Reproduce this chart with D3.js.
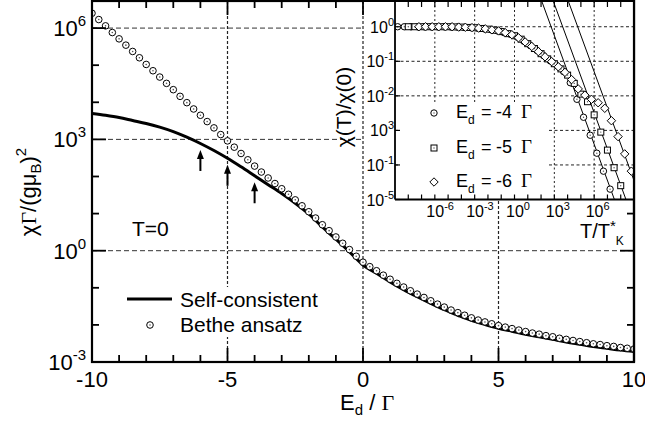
<!DOCTYPE html>
<html><head><meta charset="utf-8">
<script src="https://cdn.jsdelivr.net/npm/d3@7"></script>
<style>
body{margin:0;background:#fff}
svg{display:block}
text{font-family:"Liberation Sans",Arial,Helvetica,sans-serif;fill:#000}
</style></head>
<body><svg id="c" width="645" height="432"></svg>
<script>
// ---------------- main panel data ----------------
const lineEnergy = [-10,-9.5,-9,-8.5,-8,-7.5,-7,-6.5,-6,-5.5,-5,-4.5,-4,-3.5,-3,-2.5,-2,-1.5,-1,-0.5,0,0.5,1,1.5,2,2.5,3,3.5,4,4.5,5,5.5,6,6.5,7,7.5,8,8.5,9,9.5,10];
const selfConsistentLog10 = [3.70,3.65,3.59,3.51,3.43,3.33,3.21,3.06,2.89,2.70,2.49,2.26,2.02,1.78,1.54,1.28,0.99,0.64,0.31,-0.03,-0.385,-0.61,-0.84,-1.05,-1.24,-1.42,-1.59,-1.74,-1.88,-1.99,-2.09,-2.17,-2.25,-2.32,-2.39,-2.46,-2.52,-2.58,-2.63,-2.68,-2.72];
const betheEnergy = [-10,-9.75,-9.5,-9.25,-9,-8.75,-8.5,-8.25,-8,-7.75,-7.5,-7.25,-7,-6.75,-6.5,-6.25,-6,-5.75,-5.5,-5.25,-5,-4.75,-4.5,-4.25,-4,-3.75,-3.5,-3.25,-3,-2.75,-2.5,-2.25,-2,-1.75,-1.5,-1.25,-1,-0.75,-0.5,-0.25,0,0.25,0.5,0.75,1,1.25,1.5,1.75,2,2.25,2.5,2.75,3,3.25,3.5,3.75,4,4.25,4.5,4.75,5,5.25,5.5,5.75,6,6.25,6.5,6.75,7,7.25,7.5,7.75,8,8.25,8.5,8.75,9,9.25,9.5,9.75,10];
const betheLog10 = [6.40,6.23,6.06,5.88,5.71,5.54,5.37,5.20,5.02,4.85,4.68,4.51,4.34,4.16,3.99,3.82,3.65,3.48,3.31,3.13,2.96,2.79,2.62,2.45,2.28,2.12,1.96,1.81,1.67,1.52,1.37,1.21,1.05,0.88,0.70,0.54,0.37,0.20,0.03,-0.15,-0.31,-0.43,-0.54,-0.66,-0.77,-0.88,-0.98,-1.08,-1.17,-1.26,-1.35,-1.44,-1.52,-1.60,-1.67,-1.74,-1.81,-1.87,-1.92,-1.97,-2.02,-2.06,-2.10,-2.14,-2.18,-2.22,-2.25,-2.29,-2.32,-2.36,-2.39,-2.42,-2.45,-2.48,-2.51,-2.53,-2.56,-2.58,-2.61,-2.63,-2.65];
const arrowEnergy = [-6,-5,-4];
const mainXTicks = [-10,-9,-8,-7,-6,-5,-4,-3,-2,-1,0,1,2,3,4,5,6,7,8,9,10];
const mainXLabels = [-10,-5,0,5,10];
const mainYDecades = [-3,-2,-1,0,1,2,3,4,5,6];
const mainYLabels = [-3,0,3,6];

// ---------------- inset data ----------------
const circleLogT = [-8.8,-8.3,-7.8,-7.3,-6.8,-6.3,-5.8,-5.3,-4.8,-4.3,-3.8,-3.3,-2.8,-2.3,-1.8,-1.3,-0.8,-0.3,0.2,0.7,1.2,1.7,2.2,2.7,3.2,3.7,4.2,4.7,5.2,5.7,6.2,6.7,7.2];
const circleLogChi = [0,0,0,0,0,0,0,0,-0.005,-0.01,-0.02,-0.025,-0.04,-0.06,-0.085,-0.12,-0.17,-0.22,-0.30,-0.42,-0.55,-0.69,-0.84,-0.99,-1.13,-1.30,-1.62,-2.10,-2.62,-3.14,-3.66,-4.18,-4.70];
const squareLogT = [-8,-7.5,-7,-6.5,-6,-5.5,-5,-4.5,-4,-3.5,-3,-2.5,-2,-1.5,-1,-0.5,0,0.5,1,1.5,2,2.5,3,3.5,4,4.5,5,5.5,6,6.5,7,7.5,8];
const squareLogChi = [0,0,0,0,0,0,0,-0.005,-0.01,-0.02,-0.03,-0.05,-0.07,-0.10,-0.14,-0.20,-0.26,-0.36,-0.49,-0.63,-0.78,-0.93,-1.07,-1.22,-1.40,-1.64,-1.95,-2.17,-2.55,-3.05,-3.57,-4.08,-4.60];
const diamondLogT = [-7.2,-6.7,-6.2,-5.7,-5.2,-4.7,-4.2,-3.7,-3.2,-2.7,-2.2,-1.7,-1.2,-0.7,-0.2,0.3,0.8,1.3,1.8,2.3,2.8,3.3,3.8,4.3,4.8,5.3,5.8,6.3,6.8,7.3,7.8,8.3,8.8];
const diamondLogChi = [0,0,0,0,0,0,-0.01,-0.015,-0.025,-0.04,-0.06,-0.09,-0.12,-0.17,-0.23,-0.32,-0.44,-0.57,-0.72,-0.87,-1.01,-1.16,-1.32,-1.53,-1.80,-1.98,-2.10,-2.20,-2.36,-2.72,-3.18,-3.68,-4.18];
const curieLineLogT = [[1.90,7.62],[2.77,8.49],[3.90,9.62]];
const curieLineLogChi = [[0.9,-5.1],[0.9,-5.1],[0.9,-5.1]];
const insetLegend = ["-4","-5","-6"];
const insetXLabels = [-6,-3,0,3,6];
const insetXDecades = [-8,-7,-6,-5,-4,-3,-2,-1,0,1,2,3,4,5,6,7,8];
const insetYLabelExp = [0,-1,-2,-3,-4,-5];
const insetYLabelText = ["0","-1","-2","3","-1","-5"];

const svg = d3.select('#c');
svg.append('rect').attr('width',645).attr('height',432).attr('fill','#fff');

// ---------------- main scales ----------------
const L=92,R=634,T=1,B=362;
const x = d3.scaleLinear().domain([-10,10]).range([L,R]);
const y = d3.scaleLog().domain([1e-3, Math.pow(10,6.73)]).range([B,T]);
const P = v => Math.pow(10,v);

const defs = svg.append('defs');
defs.append('clipPath').attr('id','mclip').append('rect').attr('x',L).attr('y',T).attr('width',R-L).attr('height',B-T);

// grid
const grid = svg.append('g');
[0,3,6].forEach(e=>{
  grid.append('line').attr('x1',L).attr('x2',R).attr('y1',y(P(e))).attr('y2',y(P(e)))
    .attr('stroke','#333').attr('stroke-width',1).attr('stroke-dasharray','5,3');
});
[-5,0,5].forEach(v=>{
  grid.append('line').attr('x1',x(v)).attr('x2',x(v)).attr('y1',T).attr('y2',B)
    .attr('stroke','#222').attr('stroke-width',1.2).attr('stroke-dasharray','3,2');
});

// data
const dg = svg.append('g').attr('clip-path','url(#mclip)');
const lineData = lineEnergy.map((e,i)=>[x(e), y(P(selfConsistentLog10[i]))]);
dg.append('path').attr('d', d3.line().curve(d3.curveMonotoneX)(lineData))
  .attr('fill','none').attr('stroke','#000').attr('stroke-width',3);
const bg = dg.append('g');
betheEnergy.forEach((e,i)=>{
  const cx=x(e), cy=y(P(betheLog10[i]));
  bg.append('circle').attr('cx',cx).attr('cy',cy).attr('r',3.3).attr('fill','#fff').attr('stroke','#000').attr('stroke-width',1);
  bg.append('circle').attr('cx',cx).attr('cy',cy).attr('r',0.8).attr('fill','#555');
});

// ticks & frame
const ax = svg.append('g').attr('stroke','#000');
mainXTicks.forEach(v=>{
  const len = mainXLabels.includes(v)?14:7;
  ax.append('line').attr('x1',x(v)).attr('x2',x(v)).attr('y1',B).attr('y2',B-len).attr('stroke-width',1.8);
  ax.append('line').attr('x1',x(v)).attr('x2',x(v)).attr('y1',T).attr('y2',T+len).attr('stroke-width',1.8);
});
mainYDecades.forEach(e=>{
  const len = mainYLabels.includes(e)?14:7;
  ax.append('line').attr('x1',L).attr('x2',L+len).attr('y1',y(P(e))).attr('y2',y(P(e))).attr('stroke-width',1.8);
  ax.append('line').attr('x1',R).attr('x2',R-len).attr('y1',y(P(e))).attr('y2',y(P(e))).attr('stroke-width',1.8);
});
ax.append('rect').attr('x',L).attr('y',T).attr('width',R-L).attr('height',B-T).attr('fill','none').attr('stroke-width',2.2);

// tick labels
mainXLabels.forEach(v=>{
  svg.append('text').attr('x',x(v)).attr('y',387).attr('text-anchor','middle').attr('font-size',22).text(v);
});
mainYLabels.forEach(e=>{
  const t = svg.append('text').attr('x',86).attr('y',y(P(e))+8).attr('text-anchor','end').attr('font-size',22);
  t.append('tspan').text('10');
  t.append('tspan').attr('dy',-10).attr('font-size',15).text(e);
});

// axis titles
const xt = svg.append('text').attr('x',340).attr('y',410).attr('font-size',22);
xt.append('tspan').text('E');
xt.append('tspan').attr('dy',5).attr('font-size',15).text('d');
xt.append('tspan').attr('dy',-5).text(' / ');
xt.append('tspan').attr('font-family','"Liberation Serif",serif').text('Γ');

const yt = svg.append('text').attr('transform','translate(36,192) rotate(-90)').attr('text-anchor','middle').attr('font-size',22);
yt.append('tspan').text('χ');
yt.append('tspan').attr('font-family','"Liberation Serif",serif').text('Γ');
yt.append('tspan').text('/(gμ');
yt.append('tspan').attr('dy',5).attr('font-size',15).text('B');
yt.append('tspan').attr('dy',-5).text(')');
yt.append('tspan').attr('dy',-10).attr('font-size',15).text('2');

// T=0
svg.append('text').attr('x',132).attr('y',236).attr('font-size',21).text('T=0');

// main legend
svg.append('rect').attr('x',124).attr('y',287).attr('width',190).attr('height',50).attr('fill','#fff');
svg.append('line').attr('x1',127).attr('x2',172).attr('y1',299).attr('y2',299).attr('stroke','#000').attr('stroke-width',3);
svg.append('text').attr('x',180).attr('y',307).attr('font-size',21).text('Self-consistent');
svg.append('circle').attr('cx',150).attr('cy',325).attr('r',3.3).attr('fill','#fff').attr('stroke','#000');
svg.append('circle').attr('cx',150).attr('cy',325).attr('r',0.8).attr('fill','#555');
svg.append('text').attr('x',180).attr('y',332).attr('font-size',21).text('Bethe ansatz');

// arrows
arrowEnergy.forEach(e=>{
  const i = lineEnergy.indexOf(e);
  const tipY = y(P(selfConsistentLog10[i]))+6.5;
  const ax0 = x(e);
  svg.append('line').attr('x1',ax0).attr('x2',ax0).attr('y1',tipY+6).attr('y2',tipY+21).attr('stroke','#000').attr('stroke-width',2);
  svg.append('path').attr('d',`M${ax0},${tipY} L${ax0-3.5},${tipY+9} L${ax0+3.5},${tipY+9} Z`).attr('fill','#000');
});

// ---------------- inset ----------------
const IL=395,IR=634,IT=1,IB=199.5;
const xi = d3.scaleLog().domain([1e-9,1e9]).range([IL,IR]);
const yi = d3.scaleLog().domain([1e-5, Math.pow(10,0.745)]).range([IB,IT]);
svg.append('rect').attr('x',364).attr('y',0).attr('width',IR-364).attr('height',IB).attr('fill','#fff');
defs.append('clipPath').attr('id','iclip').append('rect').attr('x',IL).attr('y',IT).attr('width',IR-IL).attr('height',IB-IT);

const ig = svg.append('g');
[0,-1,-2,-3,-4].forEach(e=>{
  ig.append('line').attr('x1',IL).attr('x2',IR).attr('y1',yi(P(e))).attr('y2',yi(P(e)))
    .attr('stroke','#222').attr('stroke-width',1).attr('stroke-dasharray','3,2.5');
});
insetXLabels.forEach(e=>{
  ig.append('line').attr('x1',xi(P(e))).attr('x2',xi(P(e))).attr('y1',IT).attr('y2',IB)
    .attr('stroke','#222').attr('stroke-width',1).attr('stroke-dasharray','2,2.5');
});

// legend background in inset
svg.append('rect').attr('x',398).attr('y',104).attr('width',150).attr('height',94).attr('fill','#fff');

const idg = svg.append('g').attr('clip-path','url(#iclip)');
curieLineLogT.forEach((lt,k)=>{
  idg.append('line').attr('x1',xi(P(lt[0]))).attr('y1',yi(P(curieLineLogChi[k][0])))
    .attr('x2',xi(P(lt[1]))).attr('y2',yi(P(curieLineLogChi[k][1])))
    .attr('stroke','#000').attr('stroke-width',1);
});
function circ(g,cx,cy){
  g.append('circle').attr('cx',cx).attr('cy',cy).attr('r',3.2).attr('fill','#fff').attr('stroke','#000').attr('stroke-width',1);
  g.append('circle').attr('cx',cx).attr('cy',cy).attr('r',0.7).attr('fill','#555');
}
function sq(g,cx,cy){
  g.append('rect').attr('x',cx-3).attr('y',cy-3).attr('width',6).attr('height',6).attr('fill','#fff').attr('stroke','#000').attr('stroke-width',1);
  g.append('circle').attr('cx',cx).attr('cy',cy).attr('r',0.7).attr('fill','#555');
}
function dia(g,cx,cy){
  g.append('path').attr('d',`M${cx},${cy-4.2} L${cx+4.2},${cy} L${cx},${cy+4.2} L${cx-4.2},${cy} Z`).attr('fill','#fff').attr('stroke','#000').attr('stroke-width',1);
}
circleLogT.forEach((t,i)=>circ(idg, xi(P(t)), yi(P(circleLogChi[i]))));
squareLogT.forEach((t,i)=>sq(idg, xi(P(t)), yi(P(squareLogChi[i]))));
diamondLogT.forEach((t,i)=>dia(idg, xi(P(t)), yi(P(diamondLogChi[i]))));

// inset ticks & frame
const iax = svg.append('g').attr('stroke','#000');
insetXDecades.forEach(e=>{
  const px = xi(P(e));
  iax.append('line').attr('x1',px).attr('x2',px).attr('y1',IB).attr('y2',IB-5).attr('stroke-width',1.2);
  iax.append('line').attr('x1',px).attr('x2',px).attr('y1',IT).attr('y2',IT+6).attr('stroke-width',1.2);
});
insetYLabelExp.forEach(e=>{
  iax.append('line').attr('x1',IL).attr('x2',IL+5).attr('y1',yi(P(e))).attr('y2',yi(P(e))).attr('stroke-width',1.2);
});
iax.append('line').attr('x1',IL).attr('x2',IL).attr('y1',0).attr('y2',IB).attr('stroke-width',1.8);
iax.append('line').attr('x1',IL).attr('x2',IR+1).attr('y1',IB).attr('y2',IB).attr('stroke-width',1.8);
iax.append('line').attr('x1',IR).attr('x2',IR).attr('y1',0).attr('y2',B).attr('stroke-width',2.2);
iax.append('line').attr('x1',L).attr('x2',R).attr('y1',T).attr('y2',T).attr('stroke-width',2.2);

// inset labels
insetYLabelExp.forEach((e,i)=>{
  const t = svg.append('text').attr('x',394).attr('y',yi(P(e))+6).attr('text-anchor','end').attr('font-size',16);
  t.append('tspan').text('10');
  t.append('tspan').attr('dy',-7).attr('font-size',11).text(insetYLabelText[i]);
});
insetXLabels.forEach(e=>{
  const t = svg.append('text').attr('x',xi(P(e))-8.5).attr('y',217).attr('font-size',16);
  t.append('tspan').text('10');
  t.append('tspan').attr('dy',-7).attr('font-size',11).text(e);
});
const ixt = svg.append('text').attr('x',580).attr('y',238).attr('font-size',20);
ixt.append('tspan').text('T/T');
ixt.append('tspan').attr('dy',-7).attr('font-size',15).text('*');
ixt.append('tspan').attr('dy',14).attr('font-size',12).text('K');
const iyt = svg.append('text').attr('transform','translate(351,107) rotate(-90)').attr('text-anchor','middle').attr('font-size',21);
iyt.text('χ(T)/χ(0)');

// inset legend
const legY = [113,148,182];
insetLegend.forEach((v,k)=>{
  const cy = legY[k];
  if(k===0) circ(svg, 434, cy);
  if(k===1) sq(svg, 434, cy);
  if(k===2) dia(svg, 434, cy);
  const t = svg.append('text').attr('y',cy+5).attr('font-size',18);
  t.append('tspan').attr('x',456).text('E');
  t.append('tspan').attr('dy',6).attr('font-size',12).text('d');
  t.append('tspan').attr('x',481).attr('dy',-6).text('=');
  t.append('tspan').attr('x',496).text(v);
  t.append('tspan').attr('x',521).attr('font-family','"Liberation Serif",serif').attr('font-size',19).text('Γ');
});
</script>
</body></html>
